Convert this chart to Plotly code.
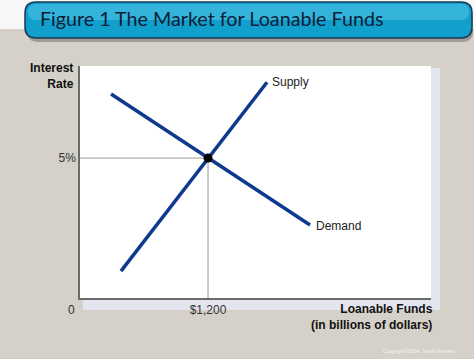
import plotly.graph_objects as go

# ---- data (billions of dollars, percent) ----
supply_x = [384, 1753]
supply_y = [0.96, 7.71]
demand_x = [291, 2156]
demand_y = [7.29, 2.61]
eq_x = [1200]
eq_y = [5]
x_tickvals = [1200]
x_ticktext = ["$1,200"]
y_tickvals = [5]
y_ticktext = ["5%"]
X_MAX = 3290
Y_MAX = 8.29

W, H = 474, 359
L, R, T, B = 80, 431, 66, 298  # plot area in pixels


def px(x):
    return (x - L) / (R - L)


def py(y):
    return (B - y) / (B - T)


LINE = "#0d3a8e"
fig = go.Figure()

# guide lines to the equilibrium
fig.add_trace(go.Scatter(x=[0, eq_x[0]], y=[eq_y[0], eq_y[0]], mode="lines",
                         line=dict(color="#9a9a9a", width=1), hoverinfo="skip"))
fig.add_trace(go.Scatter(x=[eq_x[0], eq_x[0]], y=[0, eq_y[0]], mode="lines",
                         line=dict(color="#9a9a9a", width=1), hoverinfo="skip"))
fig.add_trace(go.Scatter(x=supply_x, y=supply_y, mode="lines",
                         line=dict(color=LINE, width=3.5), name="Supply"))
fig.add_trace(go.Scatter(x=demand_x, y=demand_y, mode="lines",
                         line=dict(color=LINE, width=3.5), name="Demand"))
fig.add_trace(go.Scatter(x=eq_x, y=eq_y, mode="markers",
                         marker=dict(color="black", size=9), name="Equilibrium"))

shapes = []
# white strip at top
shapes.append(dict(type="rect", xref="paper", yref="paper", layer="below",
                   x0=px(0), x1=px(W), y0=py(29), y1=py(0),
                   fillcolor="#f7f7f7", line=dict(width=0)))
# lavender shadow of plot area
shapes.append(dict(type="rect", xref="paper", yref="paper", layer="below",
                   x0=px(431), x1=px(440), y0=py(310), y1=py(68),
                   fillcolor="#e3e5ee", line=dict(width=0)))
shapes.append(dict(type="rect", xref="paper", yref="paper", layer="below",
                   x0=px(83), x1=px(440), y0=py(310), y1=py(298),
                   fillcolor="#e3e5ee", line=dict(width=0)))


def rounded_path(x0, y0, x1, y1, r):
    # pixel coords, y downward
    pts = [
        ("M", x0 + r, y0), ("L", x1 - r, y0), ("Q", x1, y0, x1, y0 + r),
        ("L", x1, y1 - r), ("Q", x1, y1, x1 - r, y1), ("L", x0 + r, y1),
        ("Q", x0, y1, x0, y1 - r), ("L", x0, y0 + r), ("Q", x0, y0, x0 + r, y0),
    ]
    out = []
    for p in pts:
        if p[0] == "Q":
            out.append(f"Q{px(p[1])},{py(p[2])} {px(p[3])},{py(p[4])}")
        else:
            out.append(f"{p[0]}{px(p[1])},{py(p[2])}")
    return " ".join(out) + " Z"


# title box shadow
shapes.append(dict(type="path", xref="paper", yref="paper", layer="above",
                   path=rounded_path(27, 6, 473, 42, 11),
                   fillcolor="rgba(60,60,60,0.35)", line=dict(width=0)))
# title box
shapes.append(dict(type="path", xref="paper", yref="paper", layer="above",
                   path=rounded_path(25, 2, 472, 38, 11),
                   fillcolor="#119fcb", line=dict(color="#1b3a55", width=1.5)))
# highlight band
shapes.append(dict(type="path", xref="paper", yref="paper", layer="above",
                   path=rounded_path(28, 4, 469, 20, 8),
                   fillcolor="rgba(120,220,250,0.35)", line=dict(width=0)))

ann = []
ann.append(dict(x=px(38), y=py(18), xref="paper", yref="paper", xanchor="left", yanchor="middle",
                text="Figure 1 The Market for Loanable Funds", showarrow=False,
                font=dict(family="Lato", size=19.7, color="#0c1e38")))
ann.append(dict(x=px(76), y=py(76), xref="paper", yref="paper", xanchor="right", yanchor="middle",
                text="<b>Interest<br>Rate</b>", showarrow=False, align="right",
                font=dict(family="Liberation Sans", size=12, color="#111")))
ann.append(dict(x=px(71), y=py(310), xref="paper", yref="paper", xanchor="center", yanchor="middle",
                text="0", showarrow=False,
                font=dict(family="Liberation Sans", size=12, color="#333")))
ann.append(dict(x=px(435), y=py(317), xref="paper", yref="paper", xanchor="right", yanchor="middle",
                text="<b>Loanable Funds<br>(in billions of dollars)</b>", showarrow=False, align="right",
                font=dict(family="Liberation Sans", size=12, color="#111")))
ann.append(dict(x=supply_x[1], y=supply_y[1], xref="x", yref="y", xanchor="left", yanchor="middle",
                xshift=3, yshift=0, text="Supply", showarrow=False,
                font=dict(family="Liberation Sans", size=12, color="#222")))
ann.append(dict(x=demand_x[1], y=demand_y[1], xref="x", yref="y", xanchor="left", yanchor="middle",
                xshift=4, yshift=-1, text="Demand", showarrow=False,
                font=dict(family="Liberation Sans", size=12, color="#222")))
ann.append(dict(x=px(419), y=py(351), xref="paper", yref="paper", xanchor="center", yanchor="middle",
                text="Copyright©2004  South-Western", showarrow=False,
                font=dict(family="Liberation Sans", size=5, color="#f2f2f2")))

fig.update_layout(
    width=W, height=H,
    margin=dict(l=L, r=W - R, t=T, b=H - B, pad=0),
    paper_bgcolor="#d5d0c8",
    plot_bgcolor="white",
    showlegend=False,
    shapes=shapes,
    annotations=ann,
    xaxis=dict(range=[0, X_MAX], showgrid=False, zeroline=False, showline=True,
               linecolor="#6b6b6b", linewidth=1.5, tickvals=x_tickvals, ticktext=x_ticktext,
               ticks="", tickfont=dict(family="Liberation Sans", size=12, color="#333"),
               fixedrange=True),
    yaxis=dict(range=[0, Y_MAX], showgrid=False, zeroline=False, showline=True,
               linecolor="#6b6b6b", linewidth=1.5, tickvals=y_tickvals, ticktext=y_ticktext,
               ticks="", tickfont=dict(family="Liberation Sans", size=12, color="#333"),
               fixedrange=True),
)

fig.write_html("out.html", config={"displayModeBar": False},
               post_script="document.body.style.margin='0';document.body.style.overflow='hidden';")
